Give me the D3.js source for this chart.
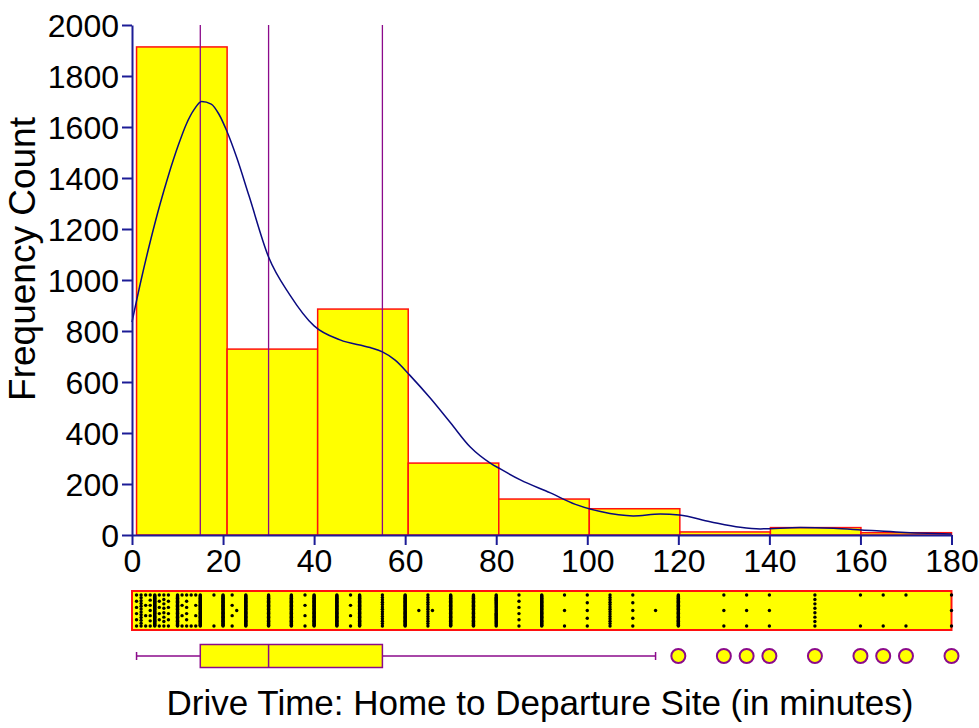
<!DOCTYPE html>
<html>
<head>
<meta charset="utf-8">
<script src="https://cdn.jsdelivr.net/npm/d3@7/dist/d3.min.js"></script>
<style>
  body { margin: 0; background: #fff; }
  text { font-family: "Liberation Sans", Arial, sans-serif; fill: #000; }
</style>
</head>
<body>
<svg id="chart" width="979" height="728"></svg>
<script>
// histogram: 9 equal bins from 1 to 180 minutes
const binEdges = [1, 20.89, 40.78, 60.67, 80.56, 100.44, 120.33, 140.22, 160.11, 180];
const binCounts = [1914, 729, 886, 282, 141, 103, 12, 29, 9];

// percentile lines (Q1, median, Q3)
const refLines = [15, 30, 55];

// density curve
const densityX = [0, 2, 4, 6.2, 8, 10.2, 11.9, 13.7, 15.3, 17.4, 19.1, 20.8, 23, 25.7, 30, 34.7, 40, 45.7, 52.3, 55, 57.8, 61, 65.5, 70, 74.3, 78.7, 80.9, 85.3, 91.9, 97.4, 102.9, 110.1, 116, 120.2, 127, 133.6, 138, 146.8, 154.1, 160.2, 168.8, 180];
const densityY = [835, 1000, 1150, 1300, 1410, 1530, 1610, 1670, 1700, 1690, 1650, 1585, 1480, 1330, 1090, 941, 820, 765, 735, 718, 686, 627, 537, 439, 345, 282, 259, 216, 165, 120, 92, 75, 82, 78, 52, 30, 24, 29, 26, 20, 11, 4];

// strip plot: observed values and number of dots shown in each column
const stripValues = [1, 2, 3, 4, 5, 6, 7, 8, 10, 11, 12, 13, 14, 15, 18, 20, 22, 23, 25, 30, 35, 38, 40, 45, 48, 50, 55, 60, 63, 65, 66, 70, 75, 80, 85, 90, 95, 100, 105, 110, 115, 120, 130, 135, 140, 150, 160, 165, 170, 180];
const stripCounts = [6, 12, 4, 7, 40, 6, 8, 6, 40, 4, 6, 2, 4, 40, 2, 40, 4, 1, 40, 40, 40, 4, 40, 40, 4, 40, 14, 40, 1, 14, 1, 40, 40, 30, 6, 40, 3, 5, 14, 5, 1, 40, 3, 3, 3, 8, 2, 2, 2, 3];

// box plot
const boxStats = { low: 1, q1: 15, median: 30, q3: 55, high: 115 };
const outliers = [120, 130, 135, 140, 150, 160, 165, 170, 180];

const xTicks = [0, 20, 40, 60, 80, 100, 120, 140, 160, 180];
const yTicks = [0, 200, 400, 600, 800, 1000, 1200, 1400, 1600, 1800, 2000];

const svg = d3.select('#chart');
const axisColor = '#1c1c96';
const purple = '#8b0a8b';
const font = '"Liberation Sans", Arial, sans-serif';

const x = d3.scaleLinear().domain([0, 180]).range([132, 951.5]);
const y = d3.scaleLinear().domain([0, 2000]).range([535, 25]);

// bars
const bins = binCounts.map((c, i) => ({ x0: binEdges[i], x1: binEdges[i + 1], count: c }));
svg.append('g').selectAll('rect')
  .data(bins)
  .enter().append('rect')
  .attr('x', d => x(d.x0))
  .attr('y', d => y(d.count))
  .attr('width', d => x(d.x1) - x(d.x0))
  .attr('height', d => y(0) - y(d.count))
  .style('fill', '#ffff00')
  .style('stroke', '#ff1010')
  .style('stroke-width', 1.5);

// percentile lines
svg.append('g').selectAll('line')
  .data(refLines)
  .enter().append('line')
  .attr('x1', d => x(d)).attr('x2', d => x(d))
  .attr('y1', y(2000)).attr('y2', y(0))
  .style('stroke', purple)
  .style('stroke-width', 1.3);

// density curve
const pts = densityX.map((v, i) => [v, densityY[i]]);
svg.append('path')
  .datum(pts)
  .attr('d', d3.line().x(d => x(d[0])).y(d => y(d[1])).curve(d3.curveMonotoneX))
  .style('fill', 'none')
  .style('stroke', '#0a0a80')
  .style('stroke-width', 1.5);

// axes
const yAxis = svg.append('g')
  .attr('transform', 'translate(132,0)')
  .call(d3.axisLeft(y).tickValues(yTicks).tickFormat(d3.format('d')).tickSize(10).tickPadding(3).tickSizeOuter(0));
const xAxis = svg.append('g')
  .attr('transform', 'translate(0,535)')
  .call(d3.axisBottom(x).tickValues(xTicks).tickFormat(d3.format('d')).tickSize(10).tickPadding(4).tickSizeOuter(0));
[xAxis, yAxis].forEach(a => {
  a.select('.domain').style('stroke', axisColor).style('stroke-width', 2);
  a.selectAll('.tick line').style('stroke', axisColor).style('stroke-width', 2);
  a.selectAll('.tick text').style('font-size', '32px').style('font-family', font).style('fill', '#000');
});
yAxis.selectAll('.tick text').attr('dy', '0.36em');
xAxis.selectAll('.tick text').attr('dy', '0.72em');

// axis titles
svg.append('text')
  .attr('transform', 'translate(35,259) rotate(-90)')
  .style('text-anchor', 'middle')
  .style('font-size', '37px')
  .text('Frequency Count');
svg.append('text')
  .attr('x', 540).attr('y', 715)
  .style('text-anchor', 'middle')
  .style('font-size', '35px')
  .text('Drive Time: Home to Departure Site (in minutes)');

// strip plot
const stripTop = 591, stripBottom = 630;
svg.append('rect')
  .attr('x', x(0)).attr('y', stripTop)
  .attr('width', x(180) - x(0)).attr('height', stripBottom - stripTop)
  .style('fill', '#ffff00')
  .style('stroke', '#ff1010')
  .style('stroke-width', 2);
const dots = [];
stripValues.forEach((v, i) => {
  const n = stripCounts[i];
  for (let k = 0; k < n; k++) {
    dots.push({ v: v, f: n === 1 ? 0.5 : k / (n - 1) });
  }
});
const dy = d3.scaleLinear().domain([0, 1]).range([stripTop + 4, stripBottom - 4]);
svg.append('g').selectAll('circle')
  .data(dots)
  .enter().append('circle')
  .attr('cx', d => x(d.v))
  .attr('cy', d => dy(d.f))
  .attr('r', 1.7)
  .style('fill', '#000');

// box plot
const by = 656, bh = 23;
const bp = svg.append('g').style('stroke', purple).style('stroke-width', 1.5);
bp.append('line')
  .attr('x1', x(boxStats.low)).attr('x2', x(boxStats.q1))
  .attr('y1', by).attr('y2', by);
bp.append('line')
  .attr('x1', x(boxStats.q3)).attr('x2', x(boxStats.high))
  .attr('y1', by).attr('y2', by);
[boxStats.low, boxStats.high].forEach(v => {
  bp.append('line')
    .attr('x1', x(v)).attr('x2', x(v))
    .attr('y1', by - 4).attr('y2', by + 4);
});
bp.append('rect')
  .attr('x', x(boxStats.q1)).attr('y', by - bh / 2)
  .attr('width', x(boxStats.q3) - x(boxStats.q1)).attr('height', bh)
  .style('fill', '#ffff00');
bp.append('line')
  .attr('x1', x(boxStats.median)).attr('x2', x(boxStats.median))
  .attr('y1', by - bh / 2).attr('y2', by + bh / 2);
bp.selectAll('circle')
  .data(outliers)
  .enter().append('circle')
  .attr('cx', d => x(d))
  .attr('cy', by)
  .attr('r', 7)
  .style('fill', '#ffff00')
  .style('stroke-width', 2);
</script>
</body>
</html>
